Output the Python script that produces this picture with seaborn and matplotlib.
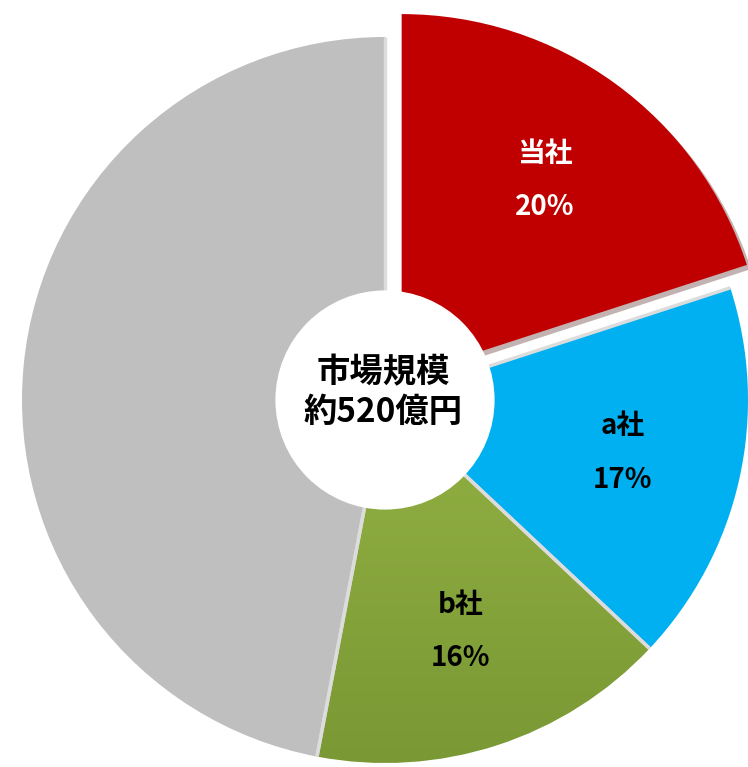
import numpy as np
import matplotlib
matplotlib.use("Agg")
import matplotlib.pyplot as plt
import matplotlib.patheffects as pe
from matplotlib.colors import LinearSegmentedColormap
import seaborn as sns

# ---- data ----
companies = ["当社", "a社", "b社", "その他"]
shares = [20, 17, 16, 47]
show_label = [True, True, True, False]
colors = ["#C00000", "#00B0F0", "#9BBB59", "#BFBFBF"]
label_colors = ["white", "black", "black", "black"]
center_lines = ["市場規模", "約520億円"]

sns.set_theme(style="white")
plt.rcParams['font.family'] = ['Noto Sans CJK JP', 'DejaVu Sans']

W, H = 748, 767
fig = plt.figure(figsize=(W / 100, H / 100), dpi=100)
ax = fig.add_axes([0, 0, 1, 1])
cx, cy, R = 385, 367, 363

labels = [f"{c}\n{s}%" if show else "" for c, s, show in zip(companies, shares, show_label)]
wedges, texts = ax.pie(
    shares, labels=labels, colors=colors, startangle=90, counterclock=False,
    center=(cx, cy), radius=R, explode=[0.078 * R, 0, 0, 0], labeldistance=0.67,
    wedgeprops=dict(edgecolor="none", linewidth=0),
    textprops=dict(ha='center', va='center', fontsize=20, fontweight='bold', linespacing=2.15),
)
for t, c in zip(texts, label_colors):
    t.set_color(c)
    t.set_zorder(8)

# red slice: soft shadow
wedges[0].set_path_effects([pe.SimplePatchShadow(offset=(3, -3), alpha=0.3), pe.Normal()])

# green slice: vertical gradient
cmap = LinearSegmentedColormap.from_list("g", ["#ABCB52", "#7A9834"])
grad = np.linspace(0, 1, 256).reshape(-1, 1)
img = ax.imshow(grad, cmap=cmap, extent=[cx - R, cx + R, cy - R, cy + R],
                origin="upper", aspect="auto", zorder=1.5)
img.set_clip_path(wedges[2])
wedges[2].set_facecolor("none")
wedges[2].set_zorder(2)

# light separator lines between the non-exploded slices
for w in wedges[1:]:
    for ang in (w.theta1, w.theta2):
        a = np.deg2rad(ang)
        ax.plot([w.center[0], w.center[0] + w.r * np.cos(a)],
                [w.center[1], w.center[1] + w.r * np.sin(a)],
                color="#DCDCDC", lw=2.5, solid_capstyle="butt", zorder=3)

# center white disc and text
ax.add_patch(plt.Circle((cx, cy), 0.30 * R, color="white", zorder=6))
ax.text(cx - 2, cy + 7, "\n".join(center_lines), ha="center", va="center",
        fontsize=24, fontweight="bold", color="black", linespacing=1.25, zorder=7)

ax.set_xlim(0, W)
ax.set_ylim(0, H)
ax.set_aspect("equal")
ax.axis("off")
fig.savefig("out.png", dpi=100, facecolor="white")
